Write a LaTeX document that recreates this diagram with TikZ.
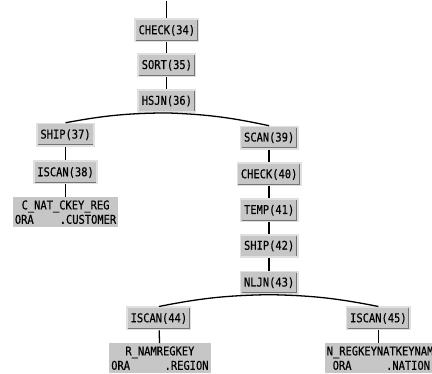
\documentclass[tikz,border=0pt]{standalone}
\usepackage{fontspec}
\newfontfamily\planfont[FakeStretch=0.86, FakeBold=0.4]{DejaVu Sans Mono}
\definecolor{opgray}{RGB}{198,198,198}
\definecolor{framegray}{RGB}{224,224,224}
\definecolor{shadegray}{RGB}{115,115,115}
\usetikzlibrary{positioning}

\begin{document}
\begin{tikzpicture}[
  x=1pt, y=-1pt,
  op/.style={draw=framegray, line width=1.6pt, fill=opgray, inner xsep=3.5pt, inner ysep=0pt,
    minimum height=22.5pt, font=\planfont\fontsize{12.2}{14}\selectfont,
    path picture={\draw[shadegray, line width=0.8pt]
      ([shift={(1pt,1.2pt)}]path picture bounding box.south west) --
      ([shift={(-1.2pt,1.2pt)}]path picture bounding box.south east) --
      ([shift={(-1.2pt,-1pt)}]path picture bounding box.north east);}},
  leaf/.style={fill=opgray, inner xsep=2pt, inner ysep=1pt, minimum height=30pt, align=center,
    font=\planfont\fontsize{12.2}{14.5}\selectfont},
  link/.style={line width=1.3pt}
]
  \fill[white] (0,0) rectangle (432,372);

  % left spine
  \node[op] (check34) at (168,30) {CHECK(34)};
  \node[op] (sort35) at (168,65) {SORT(35)};
  \node[op] (hsjn36) at (168,101) {HSJN(36)};
  \node[op] (ship37) at (66,135) {SHIP(37)};
  \node[op] (iscan38) at (66,173) {ISCAN(38)};
  \node[leaf, text width=102pt] (customer) at (66,213)
    {C\_NAT\_CKEY\_REG\\ORA\hskip 0pt plus 1fill.CUSTOMER};

  % right spine
  \node[op] (scan39) at (271,138) {SCAN(39)};
  \node[op] (check40) at (271,175) {CHECK(40)};
  \node[op] (temp41) at (271,211) {TEMP(41)};
  \node[op] (ship42) at (271,247) {SHIP(42)};
  \node[op] (nljn43) at (271,284) {NLJN(43)};
  \node[op] (iscan44) at (160,320) {ISCAN(44)};
  \node[leaf, text width=98pt] (region) at (161,360)
    {R\_NAMREGKEY\\ORA\hskip 0pt plus 1fill.REGION};
  \node[op] (iscan45) at (381,320) {ISCAN(45)};
  \node[leaf, text width=104pt] (nation) at (381,360)
    {N\_REGKEYNATKEYNAM\\\hspace*{6pt}ORA\hskip 0pt plus 1fill.NATION\hspace*{3pt}};

  \coordinate (top) at (168,0);
  \draw[link] (top) -- (check34);
  \foreach \a/\b in {check34/sort35, sort35/hsjn36, ship37/iscan38, iscan38/customer,
    scan39/check40, check40/temp41, temp41/ship42, ship42/nljn43,
    iscan44/region, iscan45/nation}
    \draw[link] (\a) -- (\b);

  \draw[link] (hsjn36.south) to[bend right=5] (ship37.north);
  \draw[link] (hsjn36.south) to[bend left=5] (scan39.north);
  \draw[link] (nljn43.south) to[bend right=5] (iscan44.north);
  \draw[link] (nljn43.south) to[bend left=5] (iscan45.north);
\end{tikzpicture}
\end{document}
